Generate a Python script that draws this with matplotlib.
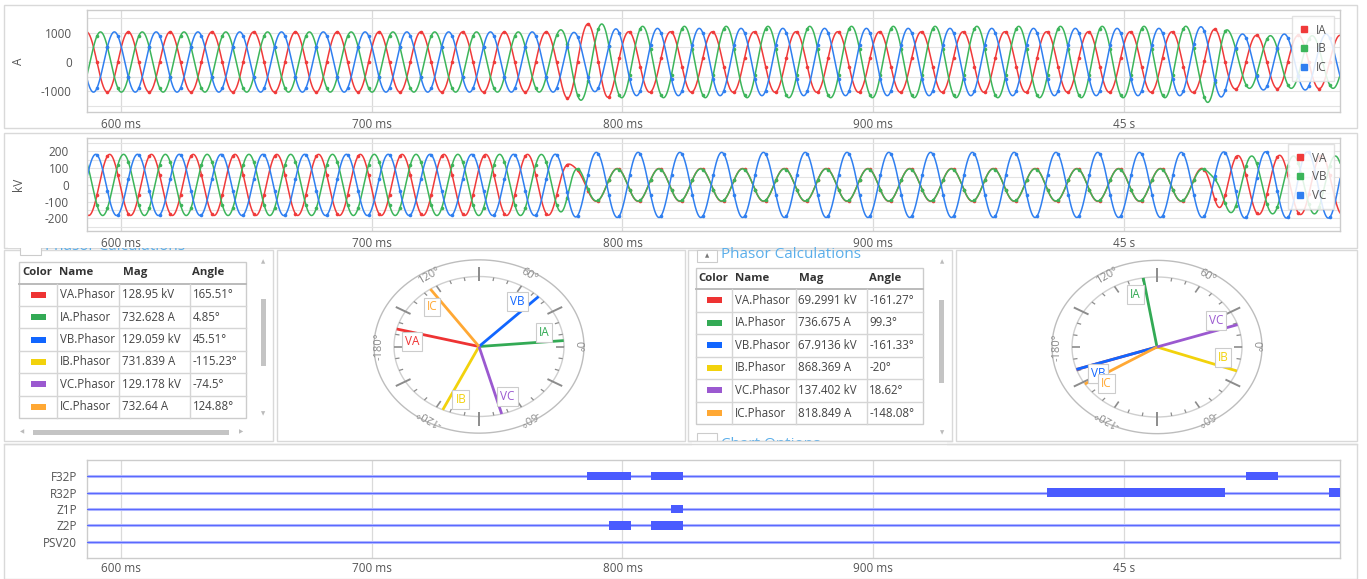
import numpy as np
import matplotlib
matplotlib.use('Agg')
import matplotlib.pyplot as plt
from matplotlib.patches import Rectangle
from matplotlib.ticker import MultipleLocator
from matplotlib.lines import Line2D

plt.rcParams['font.family'] = ['Open Sans', 'DejaVu Sans']
plt.rcParams['axes.unicode_minus'] = False

# ---------------- data ----------------
x_ticks_ms = [600, 700, 800, 900, 1000]
x_tick_labels = ['600 ms', '700 ms', '800 ms', '900 ms', '45 s']
x_range_ms = [586.4, 1086.2]
freq_hz = 60.0
samples_per_cycle = 4
sample_origin_ms = 602.9

# current waveform segments: start (ms), phasor reference time (ms), RMS (A), angle (deg)
cur_seg_start = [586.4, 776.5, 795.0, 1030.0, 1041.0]
cur_seg_ref = [603.1, 603.1, 607.1, 603.1, 603.1]
ia_rms = [732.6, 926.0, 736.7, 800.0, 650.0]
ia_ang = [4.85, 4.85, 99.3, 4.85, 4.85]
ib_rms = [731.8, 930.0, 868.4, 990.0, 640.0]
ib_ang = [-115.23, -115.23, -20.0, -115.23, -115.23]
ic_rms = [732.6, 720.0, 818.8, 880.0, 680.0]
ic_ang = [124.88, 124.88, -148.08, 124.88, 124.88]

# voltage waveform segments: start (ms), reference time (ms), RMS (kV), angle (deg)
vol_seg_start = [586.4, 779.0, 1037.0]
vol_seg_ref = [603.1, 607.1, 603.1]
va_kv = [128.95, 69.30, 125.0]
va_ang = [165.51, -161.27, 165.51]
vb_kv = [129.06, 67.91, 122.0]
vb_ang = [45.51, -161.33, 45.51]
vc_kv = [129.18, 137.40, 140.0]
vc_ang = [-74.5, 18.62, -74.5]

# phasor tables
phasor_names = ['VA.Phasor', 'IA.Phasor', 'VB.Phasor', 'IB.Phasor', 'VC.Phasor', 'IC.Phasor']
phasor_short = ['VA', 'IA', 'VB', 'IB', 'VC', 'IC']
table1_mag = ['128.95 kV', '732.628 A', '129.059 kV', '731.839 A', '129.178 kV', '732.64 A']
table1_ang = [165.51, 4.85, 45.51, -115.23, -74.5, 124.88]
table2_mag = ['69.2991 kV', '736.675 A', '67.9136 kV', '868.369 A', '137.402 kV', '818.849 A']
table2_ang = [-161.27, 99.3, -161.33, -20.0, 18.62, -148.08]
phasor_colors = ['#ee3333', '#33aa55', '#1166ff', '#f2d20c', '#9b59d0', '#ffa834']

# digital channels: (start ms, end ms)
dig_names = ['F32P', 'R32P', 'Z1P', 'Z2P', 'PSV20']
dig_on = {
    'F32P': [(785.9, 803.3), (811.4, 824.2), (1048.6, 1061.4)],
    'R32P': [(969.3, 1040.5), (1081.7, 1087.0)],
    'Z1P': [(819.3, 824.2)],
    'Z2P': [(794.6, 803.3), (811.4, 824.2)],
    'PSV20': [],
}

wave_colors = ['#f03a3a', '#3cb55a', '#2f7ff0']

# ---------------- figure ----------------
W, H = 1367, 579
fig = plt.figure(figsize=(W / 100, H / 100), dpi=100)
fig.patch.set_facecolor('white')

ov = fig.add_axes([0, 0, 1, 1])
ov.set_xlim(0, W)
ov.set_ylim(H, 0)
ov.axis('off')


def px_axes(x0, y0, x1, y1):
    return fig.add_axes([x0 / W, 1 - y1 / H, (x1 - x0) / W, (y1 - y0) / H])


# panel frames
for (x0, y0, x1, y1) in [(4, 5, 1357, 128), (4, 133, 1357, 248), (4, 250, 273, 441),
                         (277, 250, 685, 441), (688, 250, 952, 441), (956, 250, 1357, 441),
                         (4, 444, 1357, 579)]:
    ov.add_patch(Rectangle((x0, y0), x1 - x0, y1 - y0, fill=False, ec='#d9d9d9', lw=1.0))


# ---------- waveform model ----------
def seg_wave(t, starts, refs, rms, angs, width):
    y = np.zeros_like(t)
    n = len(starts)
    for k in range(n):
        lo = np.ones_like(t) if k == 0 else 1 / (1 + np.exp(-(t - starts[k]) / width))
        hi = np.zeros_like(t) if k == n - 1 else 1 / (1 + np.exp(-(t - starts[k + 1]) / width))
        amp = np.array(rms[k]) * np.sqrt(2)
        y += (lo - hi) * amp * np.cos(2 * np.pi * freq_hz * (t - refs[k]) / 1000.0 + np.deg2rad(angs[k]))
    return y


t = np.linspace(x_range_ms[0], x_range_ms[1], 6000)
dt_s = 1000.0 / (freq_hz * samples_per_cycle)
ts = np.arange(sample_origin_ms - 10 * dt_s, x_range_ms[1], dt_s)
ts = ts[ts >= x_range_ms[0]]


def style_wave(ax, ylim, yticks, gstep, ylabel, ypad):
    ax.set_xlim(*x_range_ms)
    ax.set_ylim(*ylim)
    ax.set_xticks(x_ticks_ms)
    ax.set_xticklabels(x_tick_labels)
    ax.set_yticks(yticks)
    ax.yaxis.set_minor_locator(MultipleLocator(gstep))
    ax.grid(which='both', axis='y', color='#e3e3e3', lw=0.8)
    ax.grid(which='major', axis='x', color='#dadada', lw=0.9)
    ax.set_axisbelow(True)
    for s in ax.spines.values():
        s.set_color('#cccccc')
        s.set_linewidth(1.0)
    ax.tick_params(which='both', length=0, labelsize=8.5, labelcolor='#555555')
    ax.tick_params(axis='y', pad=ypad)
    ax.tick_params(axis='x', pad=4)
    ax.set_ylabel(ylabel, fontsize=8.5, color='#555555')
    ax.yaxis.set_label_coords(-62 / 1253, 0.5)


def wave_legend(ax, labels):
    hs = [Line2D([], [], marker='s', ls='', color=c, ms=5) for c in wave_colors]
    leg = ax.legend(hs, labels, loc='upper right', fontsize=8.5, frameon=True,
                    handlelength=0.8, handletextpad=0.6, labelspacing=0.5, borderpad=0.6,
                    borderaxespad=0.55, fancybox=False, edgecolor='#dddddd', framealpha=0.85)
    for tx in leg.get_texts():
        tx.set_color('#555555')


ax_i = px_axes(87, 10, 1340, 112)
cur_sets = [(ia_rms, ia_ang), (ib_rms, ib_ang), (ic_rms, ic_ang)]
for (rms, ang), c in zip(cur_sets, wave_colors):
    ax_i.plot(t, seg_wave(t, cur_seg_start, cur_seg_ref, rms, ang, 1.2), color=c, lw=1.1)
    ax_i.plot(ts, seg_wave(ts, cur_seg_start, cur_seg_ref, rms, ang, 1.2), 'o', color=c, ms=2.6, mew=0)
style_wave(ax_i, (-1720, 1790), [-1000, 0, 1000], 500, 'A', 11)
wave_legend(ax_i, ['IA', 'IB', 'IC'])

ax_v = px_axes(87, 138, 1340, 231)
vol_sets = [(va_kv, va_ang), (vb_kv, vb_ang), (vc_kv, vc_ang)]
for (rms, ang), c in zip(vol_sets, wave_colors):
    ax_v.plot(t, seg_wave(t, vol_seg_start, vol_seg_ref, rms, ang, 2.0), color=c, lw=1.1)
    ax_v.plot(ts, seg_wave(ts, vol_seg_start, vol_seg_ref, rms, ang, 2.0), 'o', color=c, ms=2.6, mew=0)
style_wave(ax_v, (-275, 280), [-200, -100, 0, 100, 200], 50, 'kV', 13)
wave_legend(ax_v, ['VA', 'VB', 'VC'])


# ---------- section titles (partly clipped) ----------
ov.text(45, 246.5, 'Phasor Calculations', fontsize=11, color='#5aaeea', va='center', zorder=2)
ov.add_patch(Rectangle((20, 243), 21, 12, fill=True, fc='white', ec='#cccccc', lw=0.8, zorder=2))
ov.add_patch(Rectangle((8, 232), 262, 16.3, fc='white', ec='none', zorder=3))

ov.text(721, 255, 'Phasor Calculations', fontsize=11, color='#5aaeea', va='center', zorder=2)
ov.add_patch(Rectangle((697, 250), 20, 12, fc='white', ec='#cccccc', lw=0.8, zorder=2))
ov.text(707, 256, '\u25b2', fontsize=4, color='#777777', ha='center', va='center',
        family='DejaVu Sans', zorder=2)
ov.text(721, 444.5, 'Chart Options', fontsize=11, color='#5aaeea', va='center', zorder=2)
ov.add_patch(Rectangle((697, 433), 20, 12, fc='white', ec='#cccccc', lw=0.8, zorder=2))
ov.add_patch(Rectangle((692, 440.5), 255, 20, fc='white', ec='none', zorder=3))
ov.plot([688, 952], [441, 441], color='#d9d9d9', lw=1.0, zorder=4)
ov.plot([4, 1357], [444, 444], color='#d9d9d9', lw=1.0, zorder=4)


# ---------- tables ----------
def phasor_table(x0, x1, y0, yh, row_h, cols, mags, angs):
    nrow = len(phasor_names)
    y1 = yh + nrow * row_h
    ov.add_patch(Rectangle((x0, y0), x1 - x0, y1 - y0, fill=True, fc='white', ec='#cccccc', lw=1.0, zorder=2))
    ov.plot([x0, x1], [yh, yh], color='#bbbbbb', lw=1.4, zorder=3)
    for cx in cols:
        ov.plot([cx, cx], [yh, y1], color='#d5d5d5', lw=1.0, zorder=3)
    for k in range(1, nrow):
        yy = yh + k * row_h
        ov.plot([x0, x1], [yy, yy], color='#d5d5d5', lw=1.0, zorder=3)
    hy = (y0 + yh) / 2
    heads = ['Color', 'Name', 'Mag', 'Angle']
    hx = [x0 + 3, cols[0] + 2.5, cols[1] + 3.5, cols[2] + 2.5]
    for h, xx in zip(heads, hx):
        ov.text(xx, hy, h, fontsize=8.2, fontweight='bold', color='#333333', va='center', zorder=4)
    for k in range(nrow):
        yc = yh + (k + 0.5) * row_h
        sx = (x0 + cols[0]) / 2
        ov.add_patch(Rectangle((sx - 7.5, yc - 3), 15, 6, fc=phasor_colors[k], ec='none', zorder=4))
        ov.text(cols[0] + 2.5, yc, phasor_names[k], fontsize=8.3, color='#444444', va='center', zorder=4)
        ov.text(cols[1] + 2.5, yc, mags[k], fontsize=8.3, color='#444444', va='center', zorder=4)
        ov.text(cols[2] + 2.5, yc, '%g\u00b0' % angs[k], fontsize=8.3, color='#444444', va='center', zorder=4)


phasor_table(19, 246, 262, 283.5, 22.4, [57, 119, 190], table1_mag, table1_ang)
phasor_table(695.7, 922.7, 267.7, 289, 22.55, [732.3, 796, 866.7], table2_mag, table2_ang)


def arrow(x, y, ch):
    ov.text(x, y, ch, fontsize=4, color='#bbbbbb', ha='center', va='center', family='DejaVu Sans', zorder=4)


# left table scrollbars
arrow(263, 262, '\u25b2'); arrow(263, 414, '\u25bc')
ov.add_patch(Rectangle((261, 299), 5, 67, fc='#c4c4c4', ec='none', zorder=4))
arrow(22, 432, '\u25c0'); arrow(241, 432, '\u25b6')
ov.add_patch(Rectangle((33, 429.5), 196, 5, fc='#c4c4c4', ec='none', zorder=4))
# right table scrollbar
arrow(941.7, 262, '\u25b2'); arrow(941.7, 433, '\u25bc')
ov.add_patch(Rectangle((939.2, 300), 5, 83, fc='#c4c4c4', ec='none', zorder=4))


# ---------- phasor diagrams ----------
def phasor_diagram(ax, angs):
    ax.set_xlim(-1.247, 1.247)
    ax.set_ylim(-1.25, 1.25)
    ax.axis('off')
    th = np.linspace(0, 2 * np.pi, 400)
    ax.plot(1.235 * np.cos(th), 1.238 * np.sin(th), color='#bdbdbd', lw=1.0, clip_on=False)
    ax.plot(np.cos(th), np.sin(th), color='#cfcfcf', lw=1.0)
    for d in range(-180, 180, 10):
        r = np.deg2rad(d)
        if d % 60 == 30:
            r0, r1, lw = 0.93, 1.13, 1.4
        elif d % 60 == 0:
            r0, r1, lw = 0.9, 1.0, 1.2
        else:
            r0, r1, lw = 0.95, 1.0, 0.9
        ax.plot([r0 * np.cos(r), r1 * np.cos(r)], [r0 * np.sin(r), r1 * np.sin(r)],
                color='#8c8c8c', lw=lw, solid_capstyle='butt')
    for d, lab in [(120, '120\u00b0'), (60, '60\u00b0'), (0, '0\u00b0'), (-60, '-60\u00b0'),
                   (-120, '-120\u00b0'), (180, '-180\u00b0')]:
        r = np.deg2rad(d)
        ax.text(1.17 * np.cos(r), 1.17 * np.sin(r), lab, fontsize=8, color='#8a8a8a',
                rotation=d - 90, rotation_mode='anchor', ha='center', va='center')
    for k, a in enumerate(angs):
        r = np.deg2rad(a)
        ax.plot([0, np.cos(r)], [0, np.sin(r)], color=phasor_colors[k], lw=2.0, solid_capstyle='butt')
    for k, a in enumerate(angs):
        r = np.deg2rad(a + 9.5)
        ax.text(0.79 * np.cos(r), 0.79 * np.sin(r), phasor_short[k], fontsize=8.5, color=phasor_colors[k],
                ha='center', va='center',
                bbox=dict(boxstyle='square,pad=0.25', fc='white', ec='#cccccc', lw=0.8))


ph_l = px_axes(373, 259, 585, 434)
phasor_diagram(ph_l, table1_ang)
ph_r = px_axes(1051, 259.5, 1263, 434.5)
phasor_diagram(ph_r, table2_ang)


# ---------- digital channels ----------
ax_d = px_axes(87, 460, 1340, 558)
n_dig = len(dig_names)
for k, name in enumerate(dig_names):
    yv = n_dig - 1 - k
    ax_d.axhline(yv, color='#b3baff', lw=2.2, zorder=2)
    ax_d.axhline(yv, color='#5a69ff', lw=0.8, zorder=3)
    spans = dig_on[name]
    if spans:
        ax_d.barh([yv] * len(spans), [b - a for a, b in spans], left=[a for a, b in spans],
                  height=0.53, color='#4a5bff', zorder=4)
ax_d.set_xlim(*x_range_ms)
ax_d.set_ylim(-0.97, 4.97)
ax_d.set_yticks(list(range(n_dig - 1, -1, -1)))
ax_d.set_yticklabels(dig_names)
ax_d.set_xticks(x_ticks_ms)
ax_d.set_xticklabels(x_tick_labels)
ax_d.grid(which='major', axis='x', color='#dadada', lw=0.9)
ax_d.set_axisbelow(True)
for s in ax_d.spines.values():
    s.set_color('#cccccc')
    s.set_linewidth(1.0)
ax_d.tick_params(length=0, labelsize=8.5, labelcolor='#555555')
ax_d.tick_params(axis='y', pad=7)
ax_d.tick_params(axis='x', pad=3)

fig.savefig('out.png', dpi=100, facecolor='white')
